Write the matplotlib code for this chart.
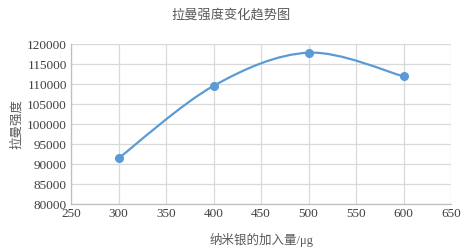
import numpy as np
import matplotlib
matplotlib.use('Agg')
import matplotlib.pyplot as plt
from matplotlib.path import Path
from matplotlib.patches import PathPatch

plt.rcParams['font.family'] = ['Liberation Serif', 'Noto Sans CJK SC']

amount = [300, 400, 500, 600]
intensity = [91500, 109600, 117900, 112000]

title = '拉曼强度变化趋势图'
xlabel = '纳米银的加入量/μg'
ylabel = '拉曼强度'

line_color = '#5B9BD5'
text_color = '#595959'
grid_color = '#D9D9D9'

fig = plt.figure(figsize=(4.63, 2.5), dpi=100)
ax = fig.add_axes([71 / 463, 1 - 204.3 / 250, 380 / 463, 160 / 250])

# smoothed line like excel (bezier through the points)
x = np.array(amount, dtype=float)
y = np.array(intensity, dtype=float)
verts = [(x[0], y[0])]
codes = [Path.MOVETO]
n = len(x)
for i in range(n - 1):
    p0 = np.array([x[max(i - 1, 0)], y[max(i - 1, 0)]])
    p1 = np.array([x[i], y[i]])
    p2 = np.array([x[i + 1], y[i + 1]])
    p3 = np.array([x[min(i + 2, n - 1)], y[min(i + 2, n - 1)]])
    c1 = p1 + (p2 - p0) / 6
    c2 = p2 - (p3 - p1) / 6
    verts += [tuple(c1), tuple(c2), tuple(p2)]
    codes += [Path.CURVE4] * 3
ax.add_patch(PathPatch(Path(verts, codes), fill=False, edgecolor=line_color,
                       lw=1.6, zorder=3))
ax.plot(amount, intensity, 'o', color=line_color, markersize=5.5, zorder=4)

ax.set_xlim(250, 650)
ax.set_ylim(80000, 120000)
ax.set_xticks(range(250, 651, 50))
ax.set_yticks(range(80000, 120001, 5000))
ax.grid(True, color=grid_color, lw=0.9)
ax.set_axisbelow(True)
for s in ['top', 'right']:
    ax.spines[s].set_visible(False)
for s in ['left', 'bottom']:
    ax.spines[s].set_color('#BFBFBF')
    ax.spines[s].set_linewidth(0.9)
ax.tick_params(length=0, labelsize=9.5, colors='#404040', pad=3)

fig.text(0.5, 1 - 15 / 250, title, ha='center', va='center', fontsize=9.5,
         color=text_color)
fig.text(17 / 463, 1 - 124 / 250, ylabel, ha='center', va='center',
         rotation=90, fontsize=9, color=text_color)
fig.text(262 / 463, 1 - 240 / 250, xlabel, ha='center', va='center',
         fontsize=9, color=text_color)

fig.savefig('out.png', dpi=100)
